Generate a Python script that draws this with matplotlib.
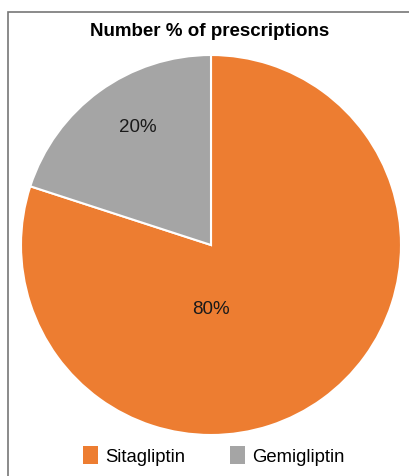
import matplotlib.pyplot as plt
from matplotlib.patches import Rectangle

labels = ["Sitagliptin", "Gemigliptin"]
shares = [80, 20]
colors = ["#ED7D31", "#A5A5A5"]

plt.rcParams['font.family'] = ['Liberation Sans', 'DejaVu Sans']

fig = plt.figure(figsize=(4.09, 4.76), dpi=100)
ax = fig.add_axes([21 / 409, 41 / 476, 380 / 409, 380 / 476])

wedges, texts, autotexts = ax.pie(
    shares, colors=colors, startangle=90, counterclock=False,
    autopct='%d%%', pctdistance=0.73,
    wedgeprops=dict(edgecolor='white', linewidth=1.5),
    textprops=dict(fontsize=13.5, color='#1a1a1a'))
# Excel-style label spots
autotexts[0].set_position((0.0, -0.34))
autotexts[1].set_position((-0.385, 0.62))
ax.set_xlim(-1, 1)
ax.set_ylim(-1, 1)
ax.set_aspect('equal')

fig.text(210 / 409, 1 - 31 / 476, "Number % of prescriptions",
         ha='center', va='center', fontsize=13.5, fontweight='bold')

leg = fig.legend(wedges, labels, loc='center', bbox_to_anchor=(214 / 409, 1 - 456 / 476),
                 ncol=2, frameon=False, fontsize=13.3, handlelength=0.8, handleheight=1.1,
                 handletextpad=0.4, columnspacing=2.4)
for h in leg.legend_handles:
    h.set_edgecolor('none')

# chart frame (cut off at right and bottom)
fig.patches.append(Rectangle((8 / 409, -0.1), 1.2, 1 - 12 / 476 + 0.1,
                             transform=fig.transFigure, fill=False,
                             edgecolor='#777777', linewidth=1.2))

fig.savefig("out.png", dpi=100)
